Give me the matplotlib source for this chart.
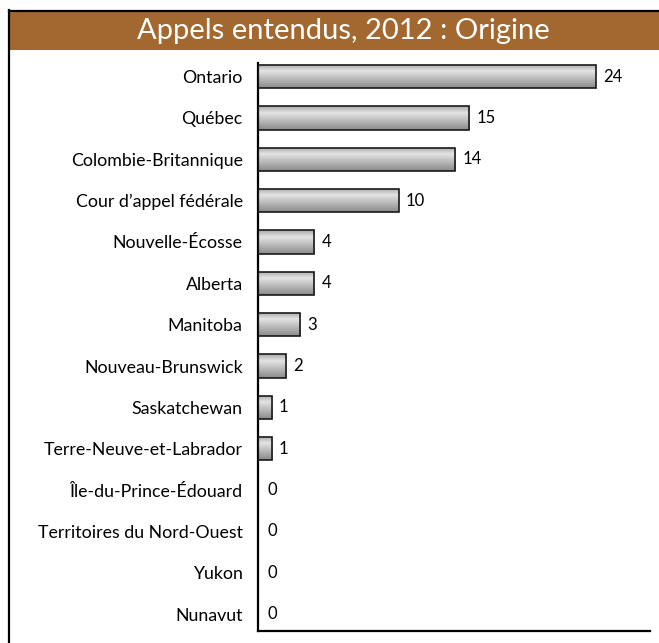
import matplotlib
matplotlib.use("Agg")
import matplotlib.pyplot as plt
import numpy as np
from matplotlib.colors import LinearSegmentedColormap
from matplotlib.patches import Rectangle

plt.rcParams["font.family"] = ["Lato", "DejaVu Sans"]

# data
provinces = [
    "Ontario",
    "Québec",
    "Colombie-Britannique",
    "Cour d’appel fédérale",
    "Nouvelle-Écosse",
    "Alberta",
    "Manitoba",
    "Nouveau-Brunswick",
    "Saskatchewan",
    "Terre-Neuve-et-Labrador",
    "Île-du-Prince-Édouard",
    "Territoires du Nord-Ouest",
    "Yukon",
    "Nunavut",
]
appeals = [24, 15, 14, 10, 4, 4, 3, 2, 1, 1, 0, 0, 0, 0]

title = "Appels entendus, 2012 : Origine"

fig = plt.figure(figsize=(6.59, 6.43), dpi=100)

# frame + brown title banner
W, H = 659, 643
fig.add_artist(plt.Line2D([9 / W, 9 / W], [0, 1 - 10 / H], color="black", lw=1.6))
fig.add_artist(plt.Line2D([9 / W, 1], [1 - 11 / H, 1 - 11 / H], color="black", lw=1.6))
fig.add_artist(Rectangle((10 / W, 1 - 50 / H), 1, 38 / H, transform=fig.transFigure,
                         facecolor="#A2682F", edgecolor="none"))
fig.text(343 / W, 1 - 31 / H, title, color="white", fontsize=21, ha="center", va="center")

ax = fig.add_axes([258 / W, 1 - 631 / H, 392 / W, 568 / H])

y = np.arange(len(provinces))
bar_h = 0.56
grad = LinearSegmentedColormap.from_list(
    "bar", [(0.0, "#a8a8a8"), (0.28, "#e4e4e4"), (1.0, "#8a8a8a")])
gvals = np.linspace(0, 1, 64).reshape(-1, 1)

for yi, v in zip(y, appeals):
    if v > 0:
        im = ax.imshow(gvals, cmap=grad, aspect="auto",
                       extent=(0, v, yi + bar_h / 2, yi - bar_h / 2), zorder=2)
        rect = Rectangle((0, yi - bar_h / 2), v, bar_h, facecolor="none",
                         edgecolor="#1a1a1a", lw=1.2, zorder=3)
        ax.add_patch(rect)
        im.set_clip_path(rect)
    ax.annotate(str(v), (v, yi), xytext=(7 if v > 0 else 9, 0), textcoords="offset pixels",
                ha="left", va="center", fontsize=12, color="black")

ax.set_xlim(0, 27.84)
ax.set_ylim(len(provinces) - 1 + 0.41, -0.33)
ax.set_yticks(y)
ax.set_yticklabels(provinces, fontsize=12.8)
ax.set_xticks([])
ax.tick_params(axis="y", length=0, pad=11)
for s in ["top", "right"]:
    ax.spines[s].set_visible(False)
for s in ["left", "bottom"]:
    ax.spines[s].set_linewidth(1.6)
    ax.spines[s].set_color("black")

fig.savefig("out.png", dpi=100)
